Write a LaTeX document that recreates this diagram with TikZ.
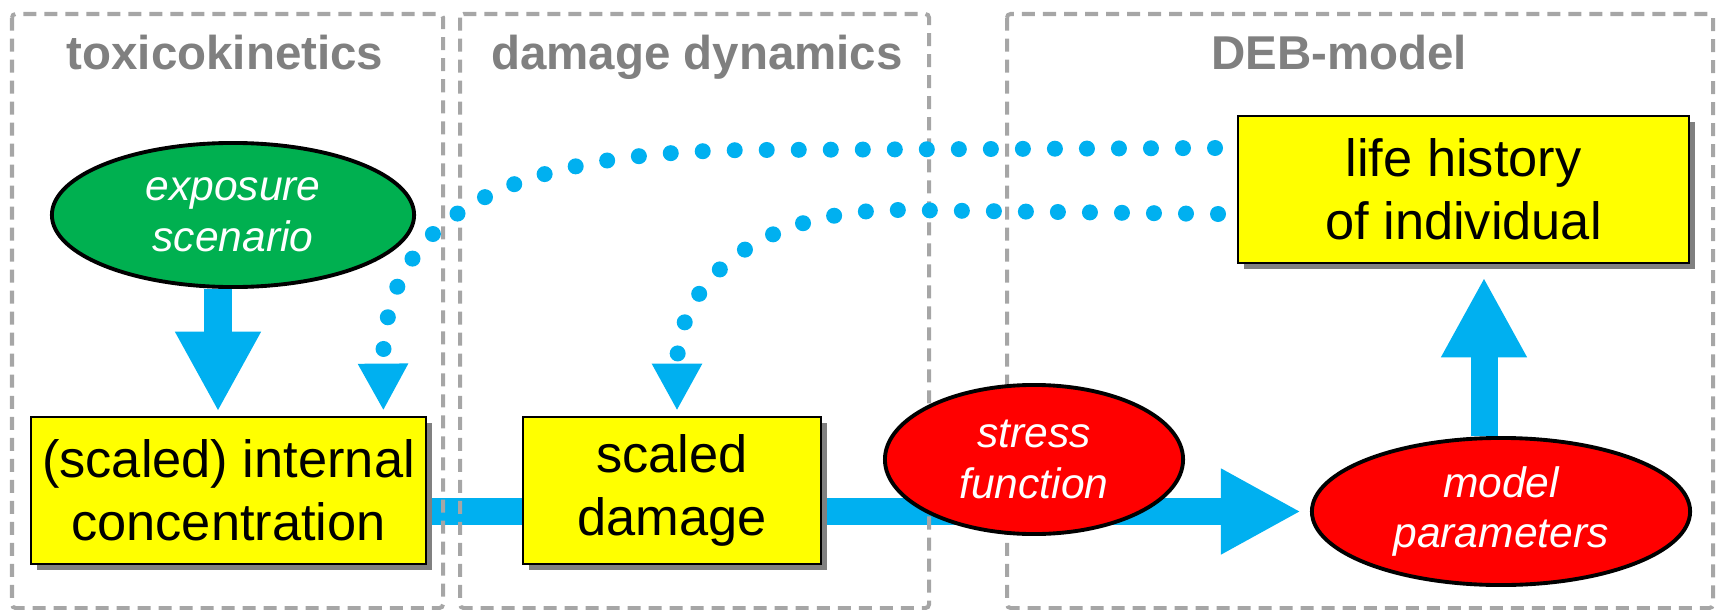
\documentclass[tikz,border=0pt]{standalone}
\usepackage{fontspec}
\setmainfont{Liberation Sans}
\usetikzlibrary{arrows.meta, shapes.geometric, shadows, backgrounds}
\definecolor{flow-blue}{HTML}{00B0F0}
\definecolor{box-yellow}{HTML}{FFFF00}
\definecolor{expo-green}{HTML}{00B050}
\definecolor{stress-red}{HTML}{FF0000}
\definecolor{panel-grey}{HTML}{A6A6A6}
\definecolor{title-grey}{HTML}{808080}

\begin{document}
\begin{tikzpicture}[x=0.01cm, y=-0.01cm,
    panel/.style={draw=panel-grey, line width=0.04cm,
      dash pattern=on 0.13cm off 0.08cm, rounded corners=1pt},
    paneltitle/.style={anchor=base, text=title-grey,
      font=\fontsize{13.5pt}{16pt}\selectfont\bfseries},
    statebox/.style={draw=black, line width=0.75pt, fill=box-yellow,
      minimum height=1.47cm, inner sep=0pt, align=center,
      font=\fontsize{14.9pt}{17.9pt}\selectfont,
      drop shadow={shadow xshift=0.06cm, shadow yshift=-0.06cm,
        fill=title-grey, opacity=1}},
    oval/.style={ellipse, draw=black, line width=1.1pt, inner sep=0pt,
      align=center, text=white,
      font=\fontsize{12.1pt}{14.4pt}\selectfont\itshape},
    fatarrow/.style={draw=flow-blue, line width=0.27cm,
      -{Triangle[length=0.8cm, width=0.8cm]}},
    dotarrow/.style={draw=flow-blue, line width=0.16cm, line cap=round,
      dash pattern=on 0pt off 0.32cm,
      -{Triangle[length=0.47cm, width=0.47cm]}}]
  \useasboundingbox (0,0) rectangle (1718,609);
  % panels
  \draw[panel] (12,14) rectangle (443,608);
  \draw[panel] (460,14) rectangle (929,608);
  \draw[panel] (1007,14) rectangle (1713,608);
  \node[paneltitle] (tktitle) at (225,70) {toxicokinetics};
  \node[paneltitle] (ddtitle) at (697,70) {damage dynamics};
  \node[paneltitle] (debtitle) at (1339,70) {DEB-model};
  % states
  \node[oval, fill=expo-green, minimum width=3.62cm, minimum height=1.44cm]
    (expo) at (233,215) {exposure\\scenario};
  \node[statebox, minimum width=3.95cm] (conc) at (228.5,490.5)
    {(scaled) internal\\concentration};
  \node[statebox, minimum width=2.98cm] (damage) at (672,490.5)
    {scaled\\damage};
  \node[statebox, minimum width=4.51cm] (life) at (1463.5,189.5)
    {life history\\of individual};
  \node[oval, fill=stress-red, minimum width=2.98cm, minimum height=1.49cm]
    (stress) at (1034,459.5) {stress\\function};
  \node[oval, fill=stress-red, minimum width=3.78cm, minimum height=1.47cm]
    (params) at (1501,511.5) {model\\parameters};
  % main flow, under panels and nodes
  \begin{scope}[on background layer]
    \draw[fatarrow, shorten >=0.04cm] ([xshift=-0.15cm]expo.south)
      -- ([xshift=-0.15cm]expo.south |- conc.north);
    \draw[fatarrow, shorten >=0.09cm] (conc.east |- params.west) -- (params.west);
    \draw[fatarrow, shorten >=0.13cm] ([xshift=-0.17cm]params.north)
      -- ([xshift=-0.17cm]params.north |- life.south);
  \end{scope}
  % feedback from the life history
  \coordinate (lh1) at (1215,148);
  \coordinate (lh2) at (1218,214);
  \draw[dotarrow, shorten >=0.05cm] (lh1) -- (760,150)
    .. controls (500,150) and (382,220) .. ([xshift=-0.44cm]conc.north east);
  \draw[dotarrow, shorten >=0.05cm] (lh2) -- (900,210)
    .. controls (760,210) and (677,280) .. ([xshift=0.05cm]damage.north);
\end{tikzpicture}
\end{document}
